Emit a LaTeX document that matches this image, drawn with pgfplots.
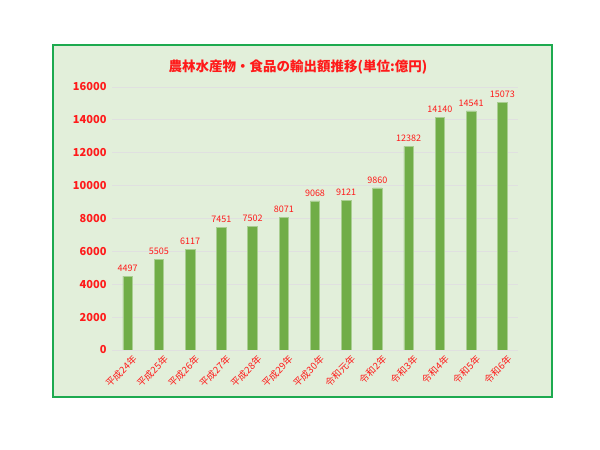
\documentclass[border=0pt]{standalone}
\usepackage{fontspec}
\setmainfont{Noto Sans CJK JP}
\usepackage{pgfplots}
\pgfplotsset{compat=1.18}
\definecolor{bg}{HTML}{E2EFDA}
\definecolor{frame}{HTML}{1DAA4F}
\definecolor{barc}{HTML}{70AD47}
\definecolor{txt}{HTML}{FF1A1A}
\begin{document}
\begin{tikzpicture}[x=1pt,y=1pt]
\fill[white] (0,0) rectangle (600,450);
\draw[frame, line width=2pt, fill=bg] (53,53) rectangle (552,405);
\node[txt, font=\bfseries\fontsize{13.5}{16}\selectfont] at (298,383) {農林水産物・食品の輸出額推移(単位:億円)};
\begin{axis}[
  at={(112pt,100pt)}, anchor=south west,
  scale only axis, width=406pt, height=263pt,
  ybar, bar width=9.5pt,
  xmin=-0.5, xmax=12.5, ymin=0, ymax=16000,
  ytick={0,2000,...,16000},
  xtick={0,...,12},
  xticklabels={平成24年,平成25年,平成26年,平成27年,平成28年,平成29年,平成30年,令和元年,令和2年,令和3年,令和4年,令和5年,令和6年},
  axis line style={draw=none},
  tick style={draw=none},
  ymajorgrids, grid style={black!12, line width=0.8pt},
  scaled y ticks=false,
  /pgf/number format/assume math mode=true,
  /pgf/number format/1000 sep={},
  yticklabel style={txt, font=\bfseries\fontsize{11}{12}\selectfont, xshift=-2pt},
  xticklabel style={txt, font=\fontsize{9.5}{10}\selectfont, rotate=45, anchor=north east, inner sep=1pt, xshift=4pt, yshift=-2pt},
  nodes near coords,
  every node near coord/.append style={txt, font=\fontsize{9}{10}\selectfont, yshift=1pt},
]
\addplot[fill=barc, draw=barc!60!white, line width=0.6pt] coordinates {
  (0,4497) (1,5505) (2,6117) (3,7451) (4,7502) (5,8071) (6,9068)
  (7,9121) (8,9860) (9,12382) (10,14140) (11,14541) (12,15073)
};
\end{axis}
\end{tikzpicture}
\end{document}
